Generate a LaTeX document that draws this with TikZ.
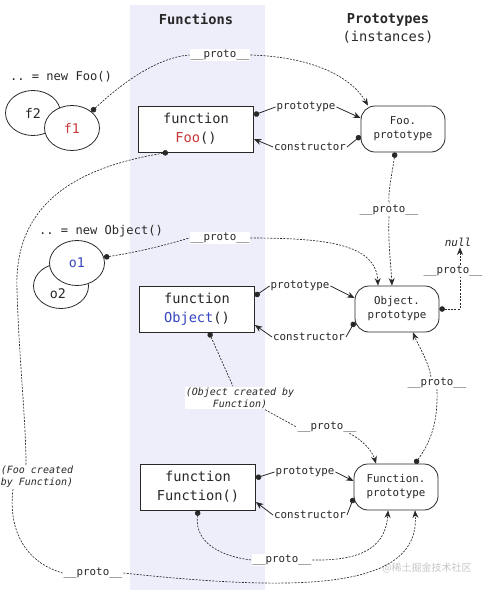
\documentclass[tikz,border=0pt]{standalone}
\usepackage{fontspec}
\setmonofont{DejaVu Sans Mono}
\newfontfamily\cjk{Noto Sans CJK SC}
\usetikzlibrary{arrows.meta,shapes.geometric}
\definecolor{bandcol}{RGB}{238,238,250}
\definecolor{foored}{RGB}{200,55,55}
\definecolor{objblue}{RGB}{55,70,190}
\definecolor{inkcol}{RGB}{40,40,40}

\begin{document}
\begin{tikzpicture}[x=1pt, y=-1pt, color=inkcol, text=inkcol,
		fnbox/.style={draw, line width=0.8pt, fill=white, minimum width=115pt, minimum height=46pt, align=center, font=\ttfamily\fontsize{13.7}{19}\selectfont},
		protobox/.style={draw, line width=0.8pt, fill=white, rounded corners=14pt, minimum width=84pt, minimum height=46pt, align=center, font=\ttfamily\fontsize{10.8}{14}\selectfont},
		objnode/.style={draw, ellipse, line width=0.8pt, fill=white, inner sep=0pt, minimum width=55pt, minimum height=45pt, font=\ttfamily\fontsize{13.3}{16}\selectfont},
		lbl/.style={fill=white, inner sep=1pt, font=\ttfamily\fontsize{10.8}{13}\selectfont},
		note/.style={fill=white, inner sep=1pt, align=center, font=\ttfamily\itshape\fontsize{10}{12}\selectfont},
		head/.style={align=center, font=\ttfamily\fontsize{13.7}{18}\selectfont},
		newtxt/.style={font=\ttfamily\fontsize{12.1}{14}\selectfont},
		link/.style={line width=0.8pt},
		proto/.style={line width=0.65pt, dash pattern=on 2pt off 1.3pt},
		dotstart/.style={{Circle[length=5.5pt]}-},
		tipend/.style={-{Stealth[length=7.5pt,width=6pt]}}
	]
	\useasboundingbox (0,0) rectangle (488,590);
	\fill[bandcol] (130,5) rectangle (265,590);

	\node[head] (fnHead) at (196,19) {\textbf{Functions}};
	\node[head] (ptHead) at (388,28) {\textbf{Prototypes}\\(instances)};

	% Foo row
	\node[newtxt] (newFoo) at (61,77) {.. = new Foo()};
	\node[objnode] (f2) at (33,113) {f2};
	\node[objnode] (f1) at (72,128) {\textcolor{foored}{f1}};
	\node[fnbox] (fooF) at (196,129) {function\\\textcolor{foored}{Foo}()};
	\node[protobox] (fooP) at (403,129) {Foo.\\prototype};
	\node[lbl] (fooPr) at (306,107) {prototype};
	\node[lbl] (fooCo) at (310,147) {constructor};
	\node[lbl] (pA) at (220,55) {\_\_proto\_\_};
	\node[lbl] (pB) at (389,210) {\_\_proto\_\_};

	% Object row
	\node[newtxt] (newObj) at (101,231) {.. = new Object()};
	\node[objnode, label={[font=\ttfamily\fontsize{13.3}{16}\selectfont, xshift=-3pt, yshift=-8pt]center:o2}] (o2) at (61,286) {};
	\node[objnode] (o1) at (77,263) {\textcolor{objblue}{o1}};
	\node[fnbox] (objF) at (197,309) {function\\\textcolor{objblue}{Object}()};
	\node[protobox] (objP) at (397,309) {Object.\\prototype};
	\node[lbl] (objPr) at (300,286) {prototype};
	\node[lbl] (objCo) at (309,337) {constructor};
	\node[lbl] (pD) at (220,238) {\_\_proto\_\_};
	\node[lbl] (pE) at (453,271) {\_\_proto\_\_};
	\node[lbl, font=\ttfamily\itshape\fontsize{11}{13}\selectfont] (nullV) at (458,242) {null};

	% Function row
	\node[fnbox] (funF) at (198,487) {function\\Function()};
	\node[protobox] (funP) at (396,487) {Function.\\prototype};
	\node[lbl] (funPr) at (305,472) {prototype};
	\node[lbl] (funCo) at (310,515) {constructor};
	\node[note] (objBy) at (240,398) {(Object created by\\Function)};
	\node[note] (fooBy) at (37,477) {(Foo created\\by Function)};
	\node[lbl] (pF) at (327,427) {\_\_proto\_\_};
	\node[lbl] (pG) at (437,383) {\_\_proto\_\_};
	\node[lbl] (pH) at (282,560) {\_\_proto\_\_};
	\node[lbl] (pC) at (93,573) {\_\_proto\_\_};
	\node[text=gray!45, font=\cjk\fontsize{10}{12}\selectfont] (wmark) at (427,568) {@稀土掘金技术社区};

	% prototype / constructor
	\draw[link, dotstart] ([yshift=14pt]fooF.east) -- (fooPr.west);
	\draw[link, tipend] (fooPr.east) -- ([yshift=11pt]fooP.west);
	\draw[link, dotstart] ([yshift=-7pt]fooP.west) -- (fooCo.east);
	\draw[link, tipend] (fooCo.west) -- ([yshift=-10pt]fooF.east);
	\draw[link, dotstart] ([yshift=13pt]objF.east) -- (objPr.west);
	\draw[link, tipend] (objPr.east) -- ([yshift=11pt]objP.west);
	\draw[link, dotstart] ([yshift=-13pt]objP.west) -- (objCo.east);
	\draw[link, tipend] (objCo.west) -- ([yshift=-16pt]objF.east);
	\draw[link, dotstart] ([yshift=9pt]funF.east) -- (funPr.west);
	\draw[link, tipend] (funPr.east) -- ([yshift=6pt]funP.west);
	\draw[link, dotstart] ([yshift=-11pt]funP.west) -- (funCo.east);
	\draw[link, tipend] (funCo.west) -- ([yshift=-15pt]funF.east);

	% __proto__ chains
	\draw[proto, dotstart] (f1.40) .. controls (125,80) and (160,57) .. (pA.west);
	\draw[proto, tipend] (pA.east) .. controls (315,57) and (352,78) .. ([xshift=-35pt]fooP.north);
	\draw[proto, dotstart] ([xshift=-8pt]fooP.south) .. controls (392,175) and (388,190) .. (pB.north);
	\draw[proto, tipend] (pB.south) .. controls (388,245) and (391,265) .. ([xshift=-5pt]objP.north);
	\draw[proto, dotstart] (o1.12) .. controls (150,250) and (175,242) .. (pD.west);
	\draw[proto, tipend] (pD.east) .. controls (330,238) and (376,245) .. ([xshift=-19pt]objP.north);
	\draw[proto, dotstart] (objP.east) -| ([xshift=7pt]pE.south);
	\draw[proto, tipend] ([xshift=7pt]pE.north) -- ([xshift=2pt]nullV.south);
	\draw[proto, dotstart] ([xshift=12pt]objF.south) -- ([xshift=-7pt]objBy.north);
	\draw[proto] ([xshift=25pt]objBy.south) -- (pF.west);
	\draw[proto, tipend] ([xshift=-8pt]pF.south east) .. controls (362,440) and (372,450) .. ([xshift=-20pt]funP.north);
	\draw[proto, dotstart] ([xshift=19pt]funP.north) .. controls (432,440) and (438,420) .. (pG.south);
	\draw[proto, tipend] ([xshift=-6pt]pG.north) .. controls (428,360) and (418,345) .. ([xshift=16pt]objP.south);
	\draw[proto, dotstart] (funF.south) .. controls (194,545) and (225,557) .. (pH.west);
	\draw[proto, tipend] (pH.east) .. controls (365,561) and (386,545) .. ([xshift=-8pt]funP.south);
	\draw[proto, dotstart] ([xshift=-28pt]fooF.south) .. controls (60,170) and (14,215) .. (17,290) .. controls (19,360) and (26,420) .. ([xshift=-11pt]fooBy.north);
	\draw[proto] ([xshift=-24pt]fooBy.south) .. controls (8,530) and (25,562) .. (pC.west);
	\draw[proto, tipend] (pC.east) .. controls (300,592) and (420,590) .. ([xshift=19pt]funP.south);
\end{tikzpicture}
\end{document}
